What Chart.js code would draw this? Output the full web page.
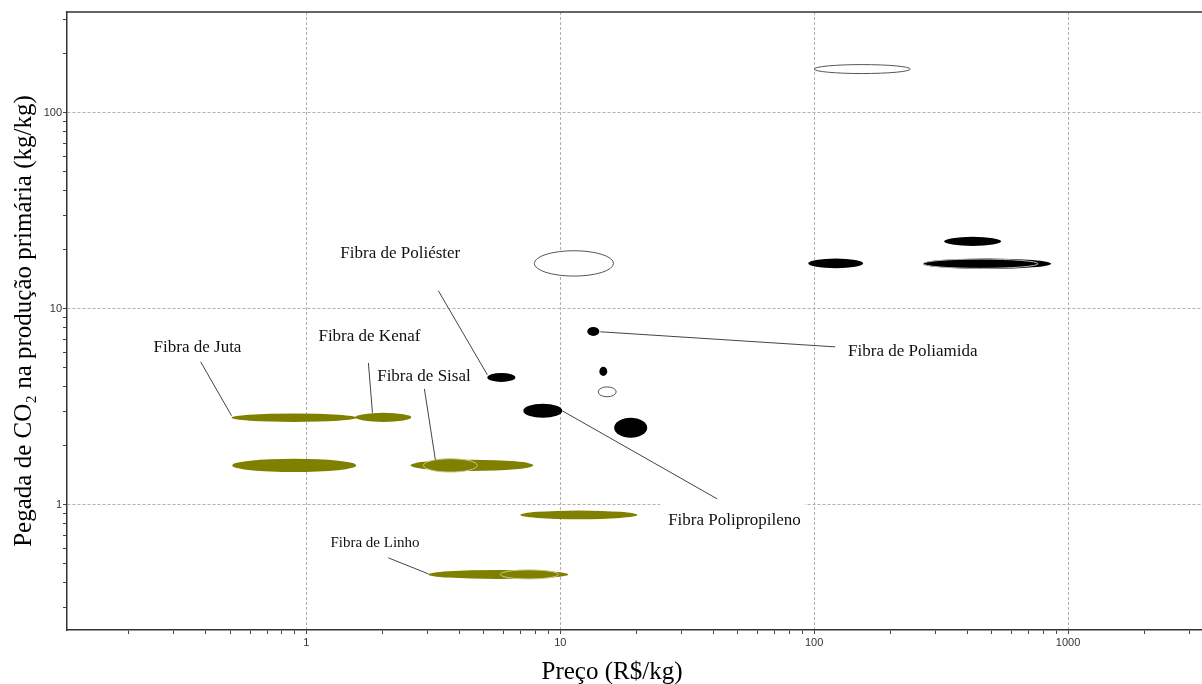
<!DOCTYPE html>
<html>
<head>
<meta charset="utf-8">
<script src="https://cdn.jsdelivr.net/npm/chart.js@4.4.1/dist/chart.umd.min.js"></script>
<style>
  html, body { margin: 0; padding: 0; background: #fff; }
  #wrap { width: 1202px; height: 684px; position: relative; }
</style>
</head>
<body>
<div id="wrap"><canvas id="grafico"></canvas></div>
<script>
// faixas de preço (R$/kg) e pegada de CO2 (kg/kg) de cada fibra
const grupo = ['natural', 'natural', 'natural', 'natural', 'naturalInterna', 'natural', 'naturalInterna', 'natural',
  'sintetica', 'sintetica', 'sintetica', 'sintetica', 'aberta', 'sintetica', 'aberta', 'aberta',
  'sintetica', 'sintetica', 'sintetica', 'sinteticaInterna'];
const precoMin = [0.507, 0.51, 1.56, 2.57, 2.89, 3.02, 5.8, 6.96,
  5.16, 7.15, 12.77, 14.25, 14.1, 16.3, 7.9, 100,
  94.7, 325, 268.5, 268.5];
const precoMax = [1.574, 1.57, 2.59, 7.83, 4.71, 10.75, 9.82, 20.1,
  6.65, 10.18, 14.25, 15.31, 16.6, 22.0, 16.2, 239,
  156, 545, 857, 762];
const pegadaMin = [2.65, 1.47, 2.65, 1.49, 1.47, 0.419, 0.419, 0.845,
  4.24, 2.78, 7.28, 4.55, 3.56, 2.20, 14.7, 158.7,
  16.13, 20.96, 16.0, 16.1];
const pegadaMax = [2.93, 1.72, 2.95, 1.70, 1.72, 0.466, 0.466, 0.935,
  4.71, 3.28, 8.09, 5.06, 4.0, 2.78, 19.8, 176.3,
  18.06, 23.3, 18.06, 17.95];

// rótulos e linhas de chamada (em coordenadas dos dados)
const rotulos = ['Fibra de Juta', 'Fibra de Kenaf', 'Fibra de Sisal', 'Fibra de Linho', 'Fibra de Poliéster', 'Fibra Polipropileno', 'Fibra de Poliamida'];
const rotuloX = [0.25, 1.115, 1.90, 1.243, 1.36, 26.6, 136];
const rotuloY = [6.32, 7.2, 4.5, 0.64, 19.1, 0.829, 6.04];
const chamadaX1 = [0.383, 1.754, 2.915, 2.10, 3.31, 10.18, 14.37];
const chamadaY1 = [5.37, 5.30, 3.91, 0.537, 12.36, 3.02, 7.64];
const chamadaX2 = [0.507, 1.82, 3.22, 3.02, 5.16, 41.5, 121];
const chamadaY2 = [2.85, 2.95, 1.70, 0.445, 4.61, 1.073, 6.40];

// eixos
const xDecadas = [0.1, 1, 10, 100, 1000];
const yDecadas = [0.1, 1, 10, 100];
const xRotulos = [1, 10, 100, 1000];
const yRotulos = [1, 10, 100];

const estilos = {
  natural: { fill: '#808000', stroke: null },
  naturalInterna: { fill: '#808000', stroke: '#c8c88c' },
  sintetica: { fill: '#000000', stroke: null },
  sinteticaInterna: { fill: '#000000', stroke: '#b8b8b8' },
  aberta: { fill: '#ffffff', stroke: '#555555' }
};

const serif = '"Liberation Serif", "Times New Roman", serif';

function marcas(decadas, min, max) {
  const v = [];
  decadas.forEach(d => {
    for (let m = 1; m <= 9; m++) {
      const t = d < 1 ? m / 10 : m * d;
      if (t >= min && t <= max) v.push(t);
    }
  });
  return v;
}

const elipses = {
  id: 'elipses',
  afterDatasetsDraw(chart) {
    const { ctx, chartArea } = chart;
    const sx = chart.scales.x, sy = chart.scales.y;
    ctx.save();

    // fundo branco dos rótulos
    rotulos.forEach((txt, i) => {
      const tam = txt === 'Fibra de Linho' ? 15 : 17;
      ctx.font = tam + 'px ' + serif;
      const w = ctx.measureText(txt).width;
      const px = sx.getPixelForValue(rotuloX[i]);
      const py = sy.getPixelForValue(rotuloY[i]);
      ctx.fillStyle = '#fff';
      ctx.fillRect(px - 8, py - 17, w + 12, 34);
    });

    ctx.beginPath();
    ctx.rect(chartArea.left, chartArea.top, chartArea.right - chartArea.left, chartArea.bottom - chartArea.top);
    ctx.clip();
    grupo.forEach((g, i) => {
      const x1 = sx.getPixelForValue(precoMin[i]);
      const x2 = sx.getPixelForValue(precoMax[i]);
      const y1 = sy.getPixelForValue(pegadaMin[i]);
      const y2 = sy.getPixelForValue(pegadaMax[i]);
      const st = estilos[g];
      ctx.beginPath();
      ctx.ellipse((x1 + x2) / 2, (y1 + y2) / 2, Math.abs(x2 - x1) / 2, Math.abs(y2 - y1) / 2, 0, 0, Math.PI * 2);
      ctx.fillStyle = st.fill;
      ctx.fill();
      if (st.stroke) {
        ctx.lineWidth = 1;
        ctx.strokeStyle = st.stroke;
        ctx.stroke();
      }
    });

    // linhas de chamada
    ctx.strokeStyle = '#444';
    ctx.lineWidth = 1;
    chamadaX1.forEach((v, i) => {
      ctx.beginPath();
      ctx.moveTo(sx.getPixelForValue(v), sy.getPixelForValue(chamadaY1[i]));
      ctx.lineTo(sx.getPixelForValue(chamadaX2[i]), sy.getPixelForValue(chamadaY2[i]));
      ctx.stroke();
    });

    // textos
    ctx.fillStyle = '#111';
    ctx.textAlign = 'left';
    ctx.textBaseline = 'middle';
    rotulos.forEach((txt, i) => {
      const tam = txt === 'Fibra de Linho' ? 15 : 17;
      ctx.font = tam + 'px ' + serif;
      ctx.fillText(txt, sx.getPixelForValue(rotuloX[i]), sy.getPixelForValue(rotuloY[i]));
    });
    ctx.restore();

    // borda superior
    ctx.save();
    ctx.strokeStyle = '#333';
    ctx.lineWidth = 1.5;
    ctx.beginPath();
    ctx.moveTo(chartArea.left, chartArea.top);
    ctx.lineTo(chart.width, chartArea.top);
    ctx.stroke();

    // título do eixo x
    ctx.font = '25px ' + serif;
    ctx.fillStyle = '#000';
    ctx.textAlign = 'center';
    ctx.textBaseline = 'middle';
    ctx.fillText('Preço (R$/kg)', 612, 672);
    ctx.restore();
  }
};

const xMin = 0.114, xMax = 3370, yMin = 0.23, yMax = 327;
const xTicks = marcas(xDecadas, xMin, xMax);
const yTicks = marcas(yDecadas, yMin, yMax);

new Chart(document.getElementById('grafico'), {
  type: 'scatter',
  data: {
    datasets: [{
      data: precoMin.map((x, i) => ({ x: x, y: pegadaMin[i] })),
      pointRadius: 0,
      pointHoverRadius: 0
    }]
  },
  options: {
    responsive: true,
    maintainAspectRatio: false,
    animation: false,
    layout: { padding: { top: 12, right: 0, bottom: 0, left: 0 } },
    plugins: { legend: { display: false }, tooltip: { enabled: false } },
    scales: {
      x: {
        type: 'logarithmic',
        position: 'bottom',
        min: xMin,
        max: xMax,
        afterBuildTicks: s => { s.ticks = xTicks.map(v => ({ value: v })); },
        afterFit: s => { s.height = 54; },
        ticks: {
          autoSkip: false,
          maxRotation: 0,
          padding: 2,
          color: '#333',
          font: { family: '"Liberation Sans", Arial, sans-serif', size: 11 },
          callback: v => xRotulos.includes(v) ? String(v) : ''
        },
        grid: {
          color: c => xDecadas.includes(c.tick.value) ? '#b0b0b0' : 'rgba(0,0,0,0)',
          tickColor: '#444',
          tickLength: 4,
          lineWidth: 1
        },
        border: { color: '#333', width: 1.5, dash: [3, 2] }
      },
      y: {
        type: 'logarithmic',
        position: 'left',
        min: yMin,
        max: yMax,
        afterBuildTicks: s => { s.ticks = yTicks.map(v => ({ value: v })); },
        afterFit: s => { s.width = 67; },
        ticks: {
          autoSkip: false,
          padding: 1,
          color: '#333',
          font: { family: '"Liberation Sans", Arial, sans-serif', size: 11 },
          callback: v => yRotulos.includes(v) ? String(v) : ''
        },
        grid: {
          color: c => yDecadas.includes(c.tick.value) ? '#b0b0b0' : 'rgba(0,0,0,0)',
          tickColor: '#444',
          tickLength: 4,
          lineWidth: 1
        },
        border: { color: '#333', width: 1.5, dash: [3, 2] },
        title: {
          display: true,
          text: 'Pegada de CO₂ na produção primária (kg/kg)',
          color: '#000',
          font: { family: serif, size: 25 },
          padding: { top: 9, bottom: 0 }
        }
      }
    }
  },
  plugins: [elipses]
});
</script>
</body>
</html>
